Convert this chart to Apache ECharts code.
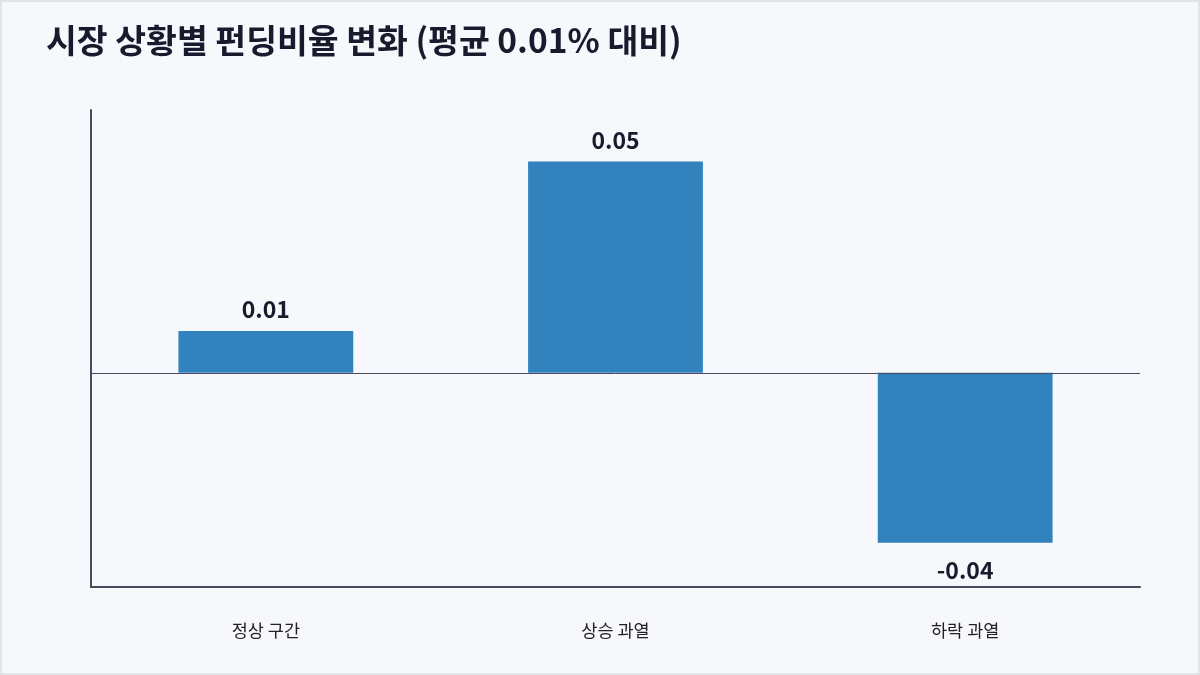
<!DOCTYPE html>
<html><head><meta charset="utf-8">
<script src="https://cdn.jsdelivr.net/npm/echarts@6/dist/echarts.min.js"></script>
<style>
html,body{margin:0;padding:0;background:#f7f8fc;}
#c{width:1200px;height:675px;box-sizing:border-box;border:2px solid #e2e4ea;}
</style></head>
<body><div id="c"></div>
<script>
const categories = ['정상 구간', '상승 과열', '하락 과열'];
const values = [0.0099, 0.0501, -0.0403];
const labels = ['0.01', '0.05', '-0.04'];

const chart = echarts.init(document.getElementById('c'), null, {renderer: 'canvas'});
const font = '"Noto Sans CJK KR", "Noto Sans", sans-serif';
chart.setOption({
  backgroundColor: '#f7f8fc',
  animation: false,
  title: {
    text: '시장 상황별 펀딩비율 변화 (평균 0.01% 대비)',
    left: 39, top: 17,
    textStyle: {fontFamily: font, fontSize: 33.5, fontWeight: 'bold', color: '#1a1a2e'}
  },
  grid: {left: 89, right: 58, top: 108, bottom: 86, containLabel: false},
  xAxis: {
    type: 'category', data: categories,
    axisLine: {onZero: false, lineStyle: {color: '#4a4a5e', width: 2}},
    axisTick: {show: false},
    axisLabel: {margin: 35, fontFamily: font, fontSize: 17.5, color: '#222'}
  },
  yAxis: {
    type: 'value', min: -0.0508, max: 0.0623,
    axisLine: {show: true, lineStyle: {color: '#4a4a5e', width: 2}},
    axisTick: {show: false}, axisLabel: {show: false}, splitLine: {show: false}
  },
  series: [{
    type: 'bar', barWidth: '50%',
    itemStyle: {color: '#3182bd'},
    data: values.map((v, i) => ({
      value: v,
      label: {
        show: true,
        position: v >= 0 ? 'top' : 'bottom',
        distance: v >= 0 ? 10 : 16,
        formatter: () => labels[i],
        fontFamily: font, fontSize: 23, fontWeight: 'bold', color: '#1a1a2e'
      }
    })),
    markLine: {
      silent: true, symbol: 'none', label: {show: false},
      lineStyle: {color: '#4a4a5e', width: 1, type: 'solid'},
      data: [{yAxis: 0}]
    }
  }]
});
</script></body></html>
